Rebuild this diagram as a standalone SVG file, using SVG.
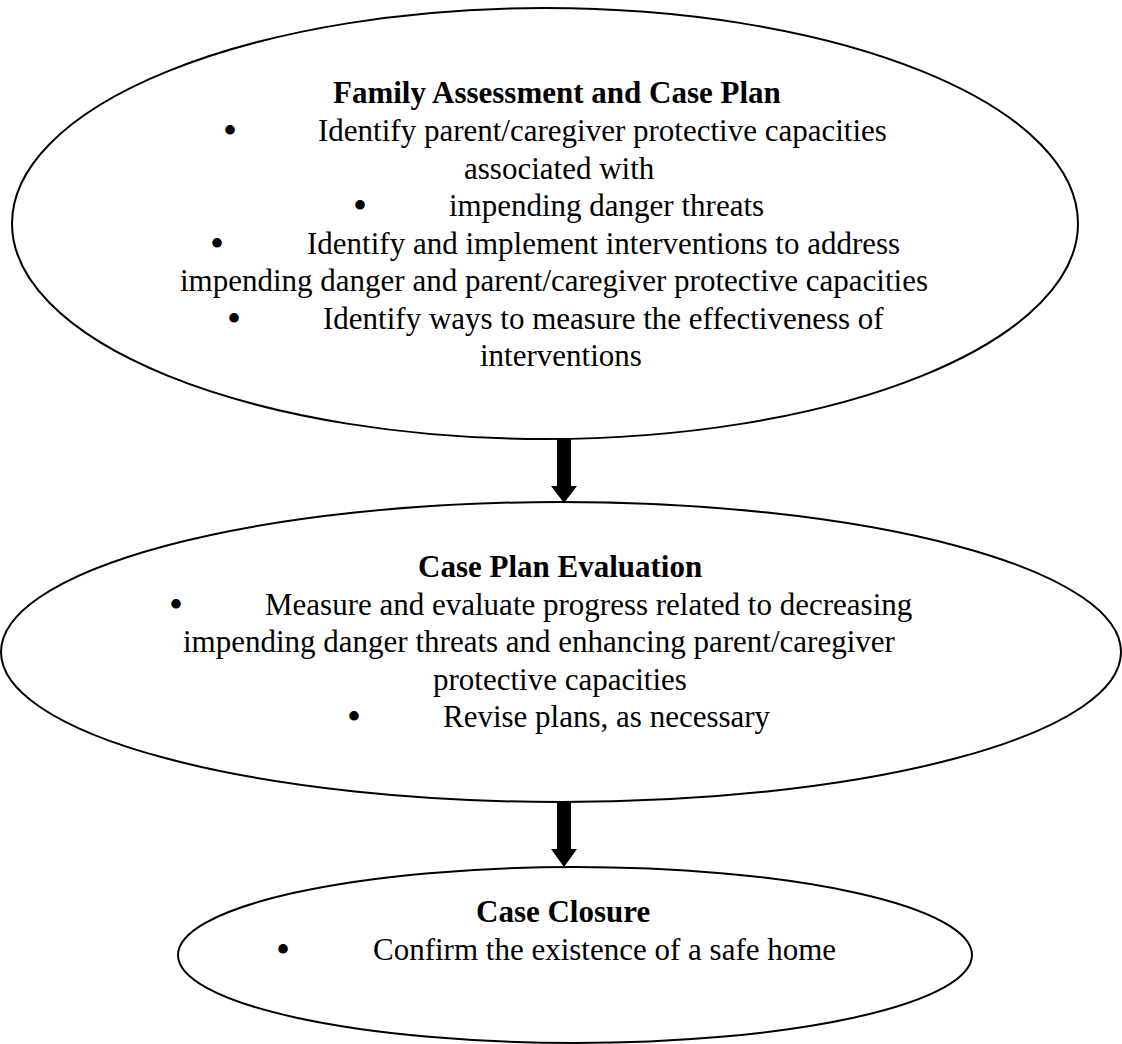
<svg xmlns="http://www.w3.org/2000/svg" width="1122" height="1044" viewBox="0 0 1122 1044">
  <style>
    .shape { fill: #ffffff; stroke: #000000; stroke-width: 2; }
    .txt { font-family: "Liberation Serif", "Times New Roman", serif; font-size: 31px; fill: #000000; }
    .ttl { font-weight: bold; }
    .bul { font-family: "Liberation Serif", "Times New Roman", serif; font-size: 40px; fill: #000000; text-anchor: middle; }
    .arrow { fill: #000000; stroke: none; }
  </style>
  <rect x="0" y="0" width="1122" height="1044" fill="#ffffff"/>

  <!-- block arrows between the stages -->
  <g id="connectors">
    <path class="arrow" d="M557,439 H571 V486 H577 L564,503 L551,486 H557 Z"/>
    <path class="arrow" d="M557,802 H571 V849 H577 L564,867 L551,849 H557 Z"/>
  </g>

  <!-- stage 1 -->
  <g id="family-assessment">
    <ellipse class="shape" cx="545" cy="223.5" rx="533" ry="215.5"/>
    <text class="txt ttl" x="333" y="103">Family Assessment and Case Plan</text>
    <text class="bul" x="230" y="144">•</text>
    <text class="txt" x="318" y="141">Identify parent/caregiver protective capacities</text>
    <text class="txt" x="464" y="178.5">associated with</text>
    <text class="bul" x="360" y="219">•</text>
    <text class="txt" x="449" y="216">impending danger threats</text>
    <text class="bul" x="217" y="257">•</text>
    <text class="txt" x="307" y="254">Identify and implement interventions to address</text>
    <text class="txt" x="180" y="291">impending danger and parent/caregiver protective capacities</text>
    <text class="bul" x="234" y="332">•</text>
    <text class="txt" x="323" y="329">Identify ways to measure the effectiveness of</text>
    <text class="txt" x="480" y="366">interventions</text>
  </g>

  <!-- stage 2 -->
  <g id="case-plan-evaluation">
    <ellipse class="shape" cx="561" cy="652" rx="560" ry="150"/>
    <text class="txt ttl" x="418" y="577">Case Plan Evaluation</text>
    <text class="bul" x="176" y="617.5">•</text>
    <text class="txt" x="265" y="614.5">Measure and evaluate progress related to decreasing</text>
    <text class="txt" x="183" y="652">impending danger threats and enhancing parent/caregiver</text>
    <text class="txt" x="433" y="689.5">protective capacities</text>
    <text class="bul" x="354" y="730">•</text>
    <text class="txt" x="443" y="727">Revise plans, as necessary</text>
  </g>

  <!-- stage 3 -->
  <g id="case-closure">
    <ellipse class="shape" cx="575" cy="955" rx="397" ry="88"/>
    <text class="txt ttl" x="476" y="922">Case Closure</text>
    <text class="bul" x="283" y="963">•</text>
    <text class="txt" x="373" y="960">Confirm the existence of a safe home</text>
  </g>
</svg>
